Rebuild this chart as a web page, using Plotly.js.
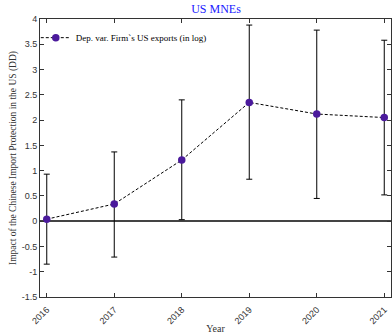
<!DOCTYPE html>
<html><head><meta charset="utf-8">
<script src="https://cdn.plot.ly/plotly-3.0.1.min.js"></script>
<style>html,body{margin:0;padding:0;background:#fff;}#chart{width:392px;height:334px;}</style>
</head><body><div id="chart"></div>
<script>
const years = [2016, 2017, 2018, 2019, 2020, 2021];
const estimates = [0.04, 0.34, 1.21, 2.35, 2.12, 2.05];
const ciUpper = [0.93, 1.37, 2.40, 3.88, 3.78, 3.58];
const ciLower = [-0.85, -0.71, 0.03, 0.83, 0.45, 0.52];
const yTicks = [-1.5, -1, -0.5, 0, 0.5, 1, 1.5, 2, 2.5, 3, 3.5, 4];

const errPlus = estimates.map((v, i) => ciUpper[i] - v);
const errMinus = estimates.map((v, i) => v - ciLower[i]);

const trace = {
  x: years, y: estimates, type: 'scatter', mode: 'lines+markers',
  name: 'Dep. var. Firm`s US exports (in log)',
  line: {color: '#000', width: 1, dash: '3px,2px'},
  marker: {color: '#4B1A9C', size: 7.5},
  error_y: {type: 'data', symmetric: false, array: errPlus, arrayminus: errMinus,
            color: '#000', thickness: 1, width: 3}
};

const serif = 'Liberation Serif, Times New Roman, serif';
const sans = 'Liberation Sans, Arial, sans-serif';
const layout = {
  width: 392, height: 334,
  margin: {l: 40, r: 1, t: 19, b: 37},
  paper_bgcolor: '#fff', plot_bgcolor: '#fff',
  title: {text: 'US MNEs', font: {family: serif, size: 12, color: '#1a1aff'}, x: 0.551, xanchor: 'center', y: 0.985, yanchor: 'top'},
  showlegend: true,
  legend: {x: -0.012, y: 0.985, xanchor: 'left', yanchor: 'top', bgcolor: 'rgba(0,0,0,0)',
           font: {family: serif, size: 9, color: '#000'}, itemwidth: 30},
  xaxis: {
    range: [2015.9, 2021.1], tickmode: 'array', tickvals: years, ticktext: years.map(String),
    tickangle: -45, ticks: 'inside', ticklen: 4, tickcolor: '#333', ticklabelstandoff: 3,
    showline: true, linecolor: '#333', linewidth: 1, mirror: 'ticks', showgrid: false, zeroline: false,
    tickfont: {family: sans, size: 9, color: '#333'},
    title: {text: 'Year', font: {family: serif, size: 10, color: '#333'}, standoff: 1}
  },
  yaxis: {
    range: [-1.5, 4], tickmode: 'array', tickvals: yTicks, ticktext: yTicks.map(String),
    ticks: 'inside', ticklen: 4, tickcolor: '#333',
    showline: true, linecolor: '#333', linewidth: 1, mirror: 'ticks', showgrid: false,
    zeroline: true, zerolinecolor: '#444', zerolinewidth: 1.5,
    tickfont: {family: sans, size: 9, color: '#333'},
    title: {text: 'Impact of the Chinese Import Protection in the US (DD)', font: {family: serif, size: 9.5, color: '#333'}, standoff: 3}
  }
};
Plotly.newPlot('chart', [trace], layout, {displayModeBar: false, staticPlot: true});
</script></body></html>
